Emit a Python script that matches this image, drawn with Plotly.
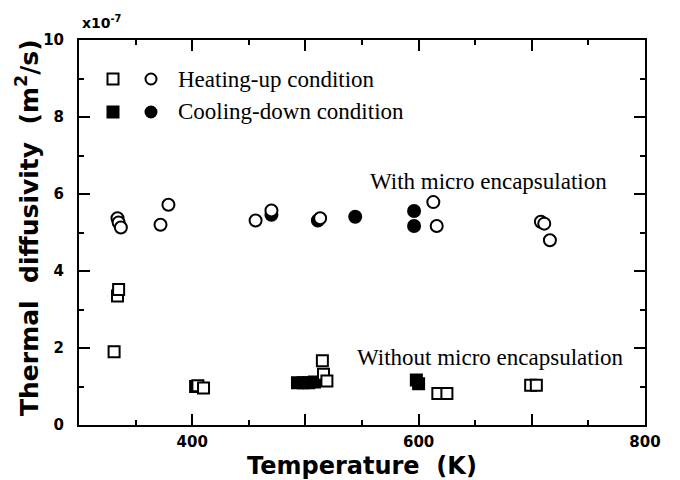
import plotly.graph_objects as go

# Data (Temperature K, thermal diffusivity x1e-7 m^2/s)
heat_with_T = [334, 335, 337, 372, 379, 456, 470, 513, 613, 616, 708, 711, 716]
heat_with_D = [5.37, 5.26, 5.13, 5.20, 5.72, 5.31, 5.57, 5.37, 5.79, 5.17, 5.28, 5.23, 4.80]

cool_with_T = [470, 511, 544, 596, 596]
cool_with_D = [5.46, 5.31, 5.41, 5.56, 5.17]

heat_without_T = [331, 334, 335, 405, 410, 515, 516, 519, 617, 625, 699, 704]
heat_without_D = [1.90, 3.35, 3.52, 1.02, 0.96, 1.67, 1.32, 1.14, 0.82, 0.82, 1.03, 1.03]

cool_without_T = [403, 493, 498, 503, 508, 598, 600]
cool_without_D = [1.00, 1.10, 1.10, 1.10, 1.12, 1.17, 1.07]

x_tickvals = [300, 400, 500, 600, 700, 800]
x_ticktext = ["", "400", "", "600", "", "800"]
y_tickvals = [0, 2, 4, 6, 8, 10]
y_ticktext = ["0", "2", "4", "6", "8", "10"]

SQ = 11
CI = 12
LW = 2

fig = go.Figure()
fig.add_trace(go.Scatter(x=cool_without_T, y=cool_without_D, mode="markers",
                         marker=dict(symbol="square", size=SQ, color="black",
                                     line=dict(color="black", width=LW))))
fig.add_trace(go.Scatter(x=cool_with_T, y=cool_with_D, mode="markers",
                         marker=dict(symbol="circle", size=CI, color="black",
                                     line=dict(color="black", width=LW))))
fig.add_trace(go.Scatter(x=heat_without_T, y=heat_without_D, mode="markers",
                         marker=dict(symbol="square", size=SQ, color="white",
                                     line=dict(color="black", width=LW))))
fig.add_trace(go.Scatter(x=heat_with_T, y=heat_with_D, mode="markers",
                         marker=dict(symbol="circle", size=CI, color="white",
                                     line=dict(color="black", width=LW))))

tickfont = dict(family="DejaVu Sans", size=15, color="black", weight="bold")

fig.update_xaxes(range=[300, 800], tickmode="array", tickvals=x_tickvals, ticktext=x_ticktext,
                 ticks="inside", ticklen=11, tickwidth=2, tickcolor="black",
                 minor=dict(dtick=50, tick0=300, ticks="inside", ticklen=5, tickwidth=1.5, tickcolor="black"),
                 showline=True, linecolor="black", linewidth=2, mirror="ticks",
                 showgrid=False, zeroline=False, tickfont=tickfont, ticklabelstandoff=2)
fig.update_yaxes(range=[0, 10], tickmode="array", tickvals=y_tickvals, ticktext=y_ticktext,
                 ticks="inside", ticklen=11, tickwidth=2, tickcolor="black",
                 minor=dict(dtick=1, tick0=0, ticks="inside", ticklen=5, tickwidth=1.5, tickcolor="black"),
                 showline=True, linecolor="black", linewidth=2, mirror="ticks",
                 showgrid=False, zeroline=False, tickfont=tickfont, ticklabelstandoff=10)

W, H = 680, 480
L, R, T, B = 79, 35, 40, 55
pw, ph = W - L - R, H - T - B

def px(x):
    return (x - L) / pw

def py(y):
    return (H - B - y) / ph

shapes = []
for (cx, cy, kind, fill) in [(113, 79, "rect", "white"), (151, 79, "circle", "white"),
                             (113, 112, "rect", "black"), (151, 112, "circle", "black")]:
    shapes.append(dict(type=kind, xref="paper", yref="paper", xsizemode="pixel", ysizemode="pixel",
                       xanchor=px(cx), yanchor=py(cy), x0=-5.5, x1=5.5, y0=-5.5, y1=5.5,
                       line=dict(color="black", width=2), fillcolor=fill))

serif = dict(family="Liberation Serif", size=23, color="black")
annotations = [
    dict(text="Heating-up condition", xref="paper", yref="paper", x=px(176), y=py(79),
         xanchor="left", yanchor="middle", showarrow=False, font=serif),
    dict(text="Cooling-down condition", xref="paper", yref="paper", x=px(176), y=py(112),
         xanchor="left", yanchor="middle", showarrow=False, font=serif),
    dict(text="With micro encapsulation", xref="paper", yref="paper", x=px(488), y=py(181),
         xanchor="center", yanchor="middle", showarrow=False, font=serif),
    dict(text="Without micro encapsulation", xref="paper", yref="paper", x=px(490), y=py(357),
         xanchor="center", yanchor="middle", showarrow=False, font=serif),
    dict(text="x10<sup>-7</sup>", xref="paper", yref="paper", x=px(80), y=py(22),
         xanchor="left", yanchor="middle", showarrow=False,
         font=dict(family="DejaVu Sans", size=14, color="black", weight="bold")),
    dict(text="Temperature  (K)", xref="paper", yref="paper", x=px(362), y=py(466),
         xanchor="center", yanchor="middle", showarrow=False,
         font=dict(family="DejaVu Sans", size=24, color="black", weight="bold")),
    dict(text="Thermal  diffusivity  (m<sup>2</sup>/s)", xref="paper", yref="paper", x=px(27), y=py(228),
         xanchor="center", yanchor="middle", showarrow=False, textangle=-90,
         font=dict(family="DejaVu Sans", size=25, color="black", weight="bold")),
]

fig.update_layout(width=W, height=H, margin=dict(l=L, r=R, t=T, b=B),
                  plot_bgcolor="white", paper_bgcolor="white", showlegend=False,
                  shapes=shapes, annotations=annotations)

fig.write_html("out.html", config={"displayModeBar": False},
               post_script="document.body.style.margin='0';")
